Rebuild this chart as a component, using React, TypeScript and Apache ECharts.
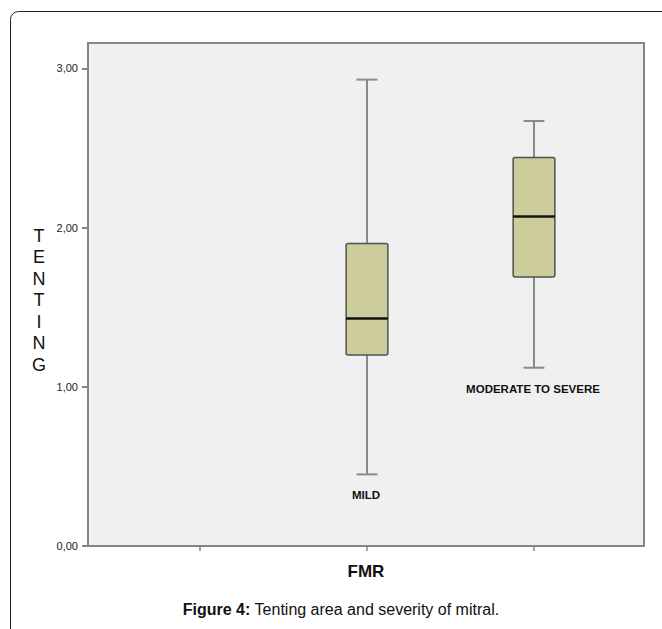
import React, { useEffect, useRef } from "react";
import * as echarts from "echarts";

const categories = ["", "MILD", "MODERATE TO SEVERE"];
const whiskerLow = [null, 0.45, 1.12];
const quartile1 = [null, 1.2, 1.69];
const medians = [null, 1.43, 2.07];
const quartile3 = [null, 1.9, 2.44];
const whiskerHigh = [null, 2.93, 2.67];
const yTicks = [0, 1, 2, 3];
const yMax = 3.16;

const FONT = "Liberation Sans, Arial, sans-serif";

export default function App() {
  const ref = useRef<HTMLDivElement>(null);
  useEffect(() => {
    document.body.style.margin = "0";
    const chart = echarts.init(ref.current!, undefined, { renderer: "svg" });
    const boxData: any[] = [];
    categories.forEach((c, i) => {
      if (whiskerLow[i] == null) return;
      boxData.push([i, whiskerLow[i], quartile1[i], medians[i], quartile3[i], whiskerHigh[i], c]);
    });
    chart.setOption({
      animation: false,
      grid: [
        { left: 88, top: 43, width: 556, height: 503, show: true, backgroundColor: "#f0f0f0", borderColor: "#858585", borderWidth: 2 },
        { left: 116.5, top: 43, width: 501, height: 503, show: false },
      ],
      xAxis: [
        { gridIndex: 0, type: "value", show: false, min: 0, max: 1 },
        {
          gridIndex: 1,
          type: "category",
          data: categories,
          boundaryGap: true,
          axisLine: { show: false },
          axisTick: { show: true, interval: 0, alignWithLabel: true, length: 5, lineStyle: { color: "#858585", width: 1.5 } },
          axisLabel: { show: false, interval: 0 },
          splitLine: { show: false },
        },
      ],
      yAxis: [
        {
          gridIndex: 0,
          type: "value",
          min: 0,
          max: yMax,
          axisLine: { show: false },
          splitLine: { show: false },
          axisTick: { show: true, length: 6, customValues: yTicks, lineStyle: { color: "#858585", width: 2 } },
          axisLabel: {
            customValues: yTicks,
            margin: 10,
            fontSize: 11,
            fontFamily: FONT,
            color: "#222",
            formatter: (v: number) => v.toFixed(2).replace(".", ","),
          },
        },
        { gridIndex: 1, type: "value", min: 0, max: yMax, show: false },
      ],
      series: [
        {
          type: "custom",
          xAxisIndex: 1,
          yAxisIndex: 1,
          data: boxData,
          encode: { x: 0, y: [1, 5] },
          renderItem: (params: any, api: any) => {
            const xi = api.value(0);
            const pLow = api.coord([xi, api.value(1)]);
            const pQ1 = api.coord([xi, api.value(2)]);
            const pMed = api.coord([xi, api.value(3)]);
            const pQ3 = api.coord([xi, api.value(4)]);
            const pHigh = api.coord([xi, api.value(5)]);
            const band = api.size([1, 0])[0];
            const bw = band * 0.25;
            const cw = band * 0.125;
            const cx = pLow[0];
            const wStyle = { stroke: "#8a8a8a", lineWidth: 2 };
            return {
              type: "group",
              children: [
                { type: "line", shape: { x1: cx, y1: pLow[1], x2: cx, y2: pHigh[1] }, style: wStyle },
                { type: "line", shape: { x1: cx - cw / 2, y1: pLow[1], x2: cx + cw / 2, y2: pLow[1] }, style: wStyle },
                { type: "line", shape: { x1: cx - cw / 2, y1: pHigh[1], x2: cx + cw / 2, y2: pHigh[1] }, style: wStyle },
                {
                  type: "rect",
                  shape: { x: cx - bw / 2, y: pQ3[1], width: bw, height: pQ1[1] - pQ3[1], r: 2 },
                  style: { fill: "#cdcd9b", stroke: "#505050", lineWidth: 1.5 },
                },
                { type: "line", shape: { x1: cx - bw / 2, y1: pMed[1], x2: cx + bw / 2, y2: pMed[1] }, style: { stroke: "#111", lineWidth: 2.5 } },
                {
                  type: "text",
                  style: {
                    text: api.value(6),
                    x: cx - 1,
                    y: pLow[1] + 21,
                    align: "center",
                    verticalAlign: "middle",
                    fontSize: 11.5,
                    fontWeight: "bold",
                    fontFamily: FONT,
                    fill: "#111",
                  },
                },
              ],
            };
          },
        },
      ],
      graphic: [
        {
          type: "rect",
          shape: { x: 10.5, y: 11.5, width: 800, height: 800, r: 8 },
          style: { fill: "none", stroke: "#222", lineWidth: 1 },
          silent: true,
        },
        {
          type: "text",
          style: {
            text: "T\nE\nN\nT\nI\nN\nG",
            x: 39,
            y: 300,
            align: "center",
            verticalAlign: "middle",
            fontSize: 18,
            lineHeight: 21.5,
            fontFamily: FONT,
            fill: "#111",
          },
        },
        {
          type: "text",
          style: {
            text: "FMR",
            x: 366,
            y: 571,
            align: "center",
            verticalAlign: "middle",
            fontSize: 17,
            fontWeight: "bold",
            fontFamily: FONT,
            fill: "#111",
          },
        },
        {
          type: "text",
          style: {
            text: "{b|Figure 4:} Tenting area and severity of mitral.",
            x: 341,
            y: 609,
            align: "center",
            verticalAlign: "middle",
            fontSize: 16,
            fontFamily: FONT,
            fill: "#111",
            rich: { b: { fontSize: 16, fontWeight: "bold", fontFamily: FONT, fill: "#111" } },
          },
        },
      ],
    });
    return () => chart.dispose();
  }, []);
  return <div ref={ref} style={{ width: 662, height: 629 }} />;
}
